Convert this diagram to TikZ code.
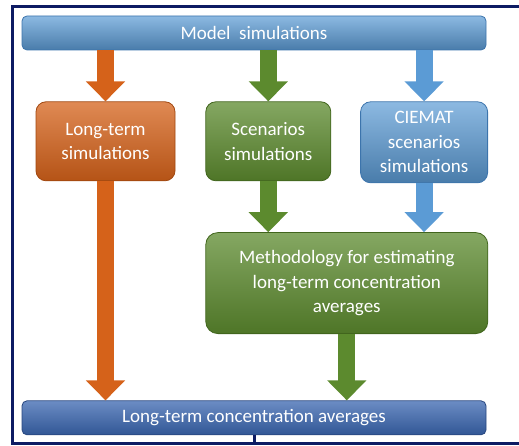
\documentclass[tikz,border=0pt]{standalone}
\usepackage{fontspec}
\setmainfont{Carlito}
\usetikzlibrary{positioning,arrows.meta}

\definecolor{skyblue}{HTML}{5B9BD5}
\definecolor{skyline}{HTML}{3C74AC}
\definecolor{rust}{HTML}{D5621A}
\definecolor{rustline}{HTML}{A1470F}
\definecolor{leaf}{HTML}{5C8A2E}
\definecolor{leafline}{HTML}{41651D}
\definecolor{deepblue}{HTML}{3A66B0}
\definecolor{deepline}{HTML}{27467F}
\definecolor{navy}{HTML}{0D1B63}

\begin{document}
\begin{tikzpicture}[
	box/.style={rectangle, rounded corners=10pt, thick, text=white, align=center, inner sep=2pt,
		font=\fontsize{19}{24.5}\selectfont},
	bar/.style={box, rounded corners=5pt, minimum width=464pt, minimum height=34pt},
	bluebox/.style={draw=skyline, top color=skyblue!70!white, middle color=skyblue, bottom color=skyblue!80!black},
	rustbox/.style={draw=rustline, top color=rust!75!white, middle color=rust, bottom color=rust!85!black},
	leafbox/.style={draw=leafline, top color=leaf!75!white, middle color=leaf, bottom color=leaf!85!black},
	deepbox/.style={draw=deepline, top color=deepblue!75!white, middle color=deepblue, bottom color=deepblue!85!black},
	flow/.style={line width=17pt, -{Triangle[width=38pt,length=20pt]}},
	frameline/.style={draw=navy, line width=3pt}]
	\useasboundingbox (0,0) rectangle (519pt,-446pt);

	% frame, open on the right
	\draw[frameline] (12pt,-7pt) -- (519pt,-7pt);
	\draw[frameline] (12pt,-5.5pt) -- (12pt,-444.5pt);
	\draw[frameline] (12pt,-443pt) -- (519pt,-443pt);

	\node[bar, bluebox] (model) at (254pt,-33pt) {Model\ \ simulations};
	\node[box, rustbox, minimum width=139pt, minimum height=79pt] (lts) [below right=51pt and 14pt of model.south west] {Long-term\\simulations};
	\node[box, leafbox, minimum width=125pt, minimum height=79pt] (scen) [right=30pt of lts.north east, anchor=north west] {Scenarios\\simulations};
	\node[box, bluebox, minimum width=127pt, minimum height=81pt] (ciemat) [right=29pt of scen.north east, anchor=north west] {CIEMAT\\scenarios\\simulations};
	\node[box, leafbox, rounded corners=12pt, minimum width=282pt, minimum height=101pt] (method) [below=51pt of scen.south west, anchor=north west] {Methodology for estimating\\long-term concentration\\averages};
	\node[bar, deepbox] (avg) [below=350pt of model.south] {Long-term concentration averages};
	\coordinate (stub) at ([yshift=-10pt]avg.south);

	\draw[flow, rust] (lts.north |- model.south) -- (lts.north);
	\draw[flow, leaf] (scen.north |- model.south) -- (scen.north);
	\draw[flow, skyblue] (ciemat.north |- model.south) -- (ciemat.north);
	\draw[flow, rust] (lts.south) -- (lts.south |- avg.north);
	\draw[flow, leaf] (scen.south) -- (scen.south |- method.north);
	\draw[flow, skyblue] (ciemat.south) -- (ciemat.south |- method.north);
	\draw[flow, leaf] (method.south) -- (method.south |- avg.north);
	\draw[frameline] (avg.south) -- (stub);
\end{tikzpicture}
\end{document}
